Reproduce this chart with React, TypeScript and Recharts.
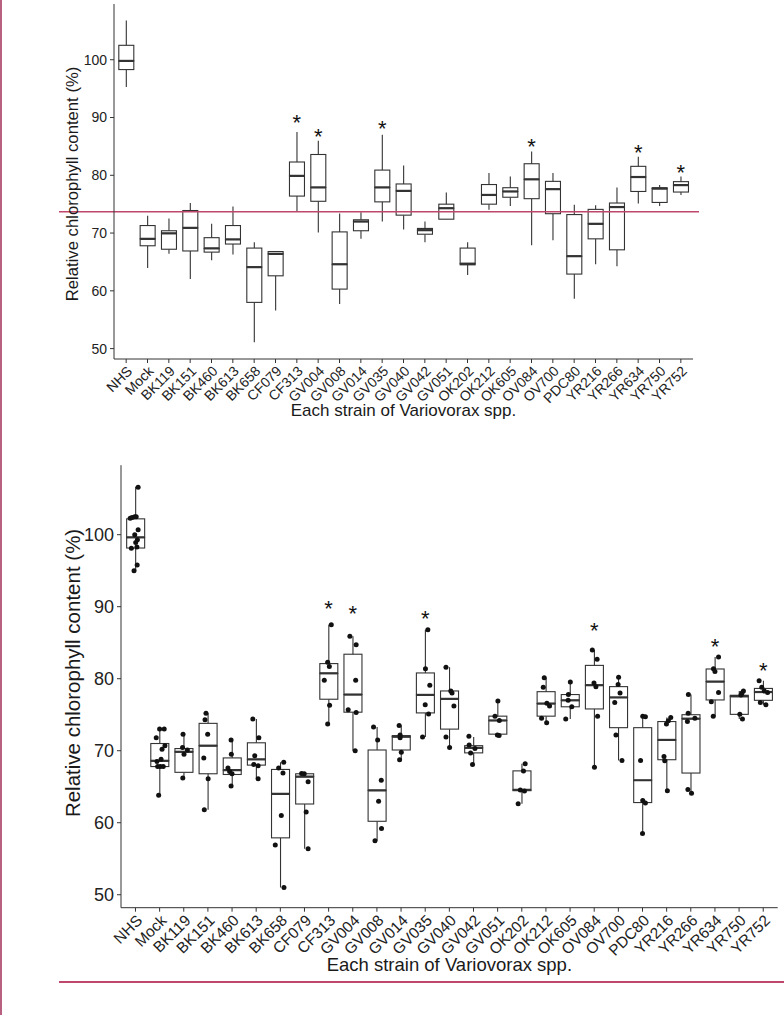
import React from 'react';
import { Bar, ComposedChart, Label, ReferenceLine, Scatter, XAxis, YAxis } from 'recharts';

const strains = [
  'NHS', 'Mock', 'BK119', 'BK151', 'BK460', 'BK613', 'BK658', 'CF079', 'CF313',
  'GV004', 'GV008', 'GV014', 'GV035', 'GV040', 'GV042', 'GV051', 'OK202', 'OK212',
  'OK605', 'OV084', 'OV700', 'PDC80', 'YR216', 'YR266', 'YR634', 'YR750', 'YR752',
];

// [lower whisker, Q1, median, Q3, upper whisker], upper figure
const upperBoxes = [
  [95.3, 98.3, 99.8, 102.5, 106.8],
  [63.95, 67.8, 69.0, 71.3, 73.0],
  [66.4, 67.2, 69.95, 70.4, 72.5],
  [62.05, 66.9, 70.9, 73.9, 75.2],
  [65.3, 66.7, 67.35, 69.2, 71.6],
  [66.3, 68.1, 68.9, 71.3, 74.6],
  [51.1, 58.0, 64.1, 67.4, 68.4],
  [56.6, 62.6, 66.4, 66.8, 66.9],
  [73.7, 76.4, 79.9, 82.3, 87.5],
  [70.1, 75.5, 77.9, 83.6, 86.0],
  [57.7, 60.3, 64.6, 70.2, 73.4],
  [69.0, 70.4, 72.0, 72.3, 73.6],
  [72.0, 75.4, 77.9, 80.9, 87.0],
  [70.6, 73.1, 77.3, 78.5, 81.7],
  [68.4, 69.8, 70.5, 70.8, 72.0],
  [72.4, 72.4, 74.3, 75.0, 77.0],
  [62.75, 64.5, 64.7, 67.4, 68.4],
  [74.05, 75.0, 76.6, 78.4, 80.4],
  [74.7, 76.2, 77.2, 77.85, 79.8],
  [67.9, 75.95, 79.3, 82.0, 84.1],
  [68.75, 73.35, 77.6, 78.95, 80.4],
  [58.65, 62.9, 66.0, 73.2, 74.9],
  [64.6, 69.0, 71.6, 74.1, 74.8],
  [64.25, 67.1, 74.5, 75.2, 77.9],
  [75.1, 77.2, 79.7, 81.55, 83.2],
  [74.7, 75.3, 77.7, 77.85, 78.3],
  [76.6, 77.1, 78.3, 78.9, 79.8],
];

// same layout, lower figure
const lowerBoxes = [
  [95.0, 98.15, 99.63, 102.2, 106.65],
  [63.8, 67.8, 68.6, 71.0, 73.0],
  [66.2, 67.0, 69.85, 70.3, 72.3],
  [61.8, 66.8, 70.7, 73.8, 75.2],
  [65.1, 66.7, 67.3, 69.0, 71.5],
  [66.1, 68.0, 68.8, 71.1, 74.4],
  [51.0, 57.9, 64.0, 67.4, 68.4],
  [56.4, 62.6, 66.4, 66.8, 66.9],
  [73.7, 77.15, 80.75, 82.1, 87.5],
  [70.0, 75.35, 77.8, 83.4, 85.9],
  [57.5, 60.2, 64.5, 70.1, 73.3],
  [68.75, 70.1, 71.95, 72.1, 73.5],
  [71.9, 75.25, 77.75, 80.8, 86.8],
  [70.45, 73.0, 77.2, 78.3, 81.6],
  [68.1, 69.7, 70.4, 70.7, 71.9],
  [72.1, 72.3, 74.2, 74.8, 76.9],
  [62.65, 64.45, 64.55, 67.2, 68.2],
  [73.9, 74.8, 76.55, 78.2, 80.15],
  [74.4, 76.1, 77.0, 77.8, 79.55],
  [67.7, 75.8, 79.1, 81.85, 84.0],
  [68.65, 73.2, 77.4, 78.9, 80.2],
  [58.5, 62.8, 65.9, 73.2, 74.8],
  [64.45, 68.75, 71.5, 74.05, 74.6],
  [64.1, 66.9, 74.45, 75.0, 77.8],
  [74.8, 77.05, 79.6, 81.35, 83.0],
  [74.4, 75.05, 77.55, 77.7, 78.3],
  [76.4, 77.0, 78.15, 78.65, 79.7],
];

const starStrains = ['CF313', 'GV004', 'GV035', 'OV084', 'YR634', 'YR752'];
const upperStarLevels = [90.0, 87.6, 89.0, 85.8, 84.8, 81.3];
const lowerStarLevels = [90.4, 89.7, 89.05, 87.4, 85.2, 81.9];

const controlLevel = 73.7;

// individual plants (lower figure), values and horizontal jitter in category widths
const dotValues = [
  [106.6, 102.3, 102.4, 102.5, 102.5, 100.7, 100.0, 99.3, 98.9, 98.1, 98.3, 95.8, 95.0],
  [71.8, 73.0, 73.0, 70.7, 70.2, 68.8, 67.8, 67.8, 67.8, 68.5, 63.8],
  [72.3, 70.45, 69.5, 70.1, 66.2],
  [75.2, 74.3, 72.3, 69.0, 66.1, 61.8],
  [71.5, 69.5, 67.6, 67.1, 66.8, 65.1],
  [74.4, 71.8, 69.3, 68.1, 67.9, 66.1],
  [67.6, 68.4, 66.9, 61.0, 56.9, 51.0],
  [66.85, 66.8, 65.7, 61.5, 56.4],
  [87.5, 82.3, 81.7, 79.8, 76.3, 73.7],
  [85.9, 84.7, 79.8, 75.7, 75.3, 70.0],
  [73.3, 71.5, 65.9, 63.0, 59.2, 57.5],
  [73.5, 72.2, 71.8, 69.8, 68.75],
  [86.8, 81.4, 79.1, 76.4, 75.1, 71.9],
  [81.6, 78.3, 78.0, 76.2, 71.9, 70.45],
  [72.0, 70.8, 70.3, 69.7, 68.1],
  [76.9, 74.8, 74.2, 72.2, 72.1],
  [68.2, 67.2, 64.55, 64.4, 62.65],
  [80.15, 78.8, 76.6, 76.2, 74.5, 73.9],
  [79.55, 77.8, 77.0, 76.1, 74.4],
  [84.0, 82.7, 79.4, 78.9, 74.8, 67.7],
  [80.2, 79.2, 78.0, 76.7, 72.2, 68.65],
  [74.8, 74.7, 68.65, 63.1, 62.75, 58.5],
  [74.6, 74.15, 73.7, 69.2, 68.6, 64.45],
  [77.8, 75.2, 74.5, 74.05, 64.6, 64.1],
  [83.0, 81.4, 81.0, 78.1, 76.8, 74.8],
  [78.3, 77.75, 78.0, 75.05, 74.4],
  [79.7, 78.8, 78.3, 78.1, 76.7, 76.4],
];
const dotOffsets = [
  [0.11, -0.22, -0.14, -0.03, 0.03, 0.11, -0.03, 0.08, 0.01, -0.17, 0.06, 0.07, -0.06],
  [-0.14, 0, 0.19, 0.22, 0.1, 0.06, -0.08, 0.03, 0.15, -0.11, -0.04],
  [-0.03, -0.05, 0.01, 0.15, -0.04],
  [-0.08, -0.12, -0.01, -0.17, 0.01, -0.15],
  [-0.04, -0.03, -0.17, -0.1, 0, -0.04],
  [-0.14, 0.11, -0.06, -0.1, 0.08, 0.08],
  [-0.07, 0.14, 0.11, 0.04, -0.21, 0.15],
  [-0.12, -0.01, 0.15, 0.07, 0.15],
  [0.11, -0.04, 0.03, -0.18, 0.04, -0.04],
  [-0.12, 0.14, 0.12, -0.19, 0.14, 0.1],
  [-0.14, 0.03, 0.18, 0.07, 0.19, -0.08],
  [-0.08, -0.04, -0.04, 0.01, -0.06],
  [0.11, 0.01, 0.19, 0, 0.14, -0.11],
  [-0.14, 0.06, 0.11, 0.19, -0.14, 0.01],
  [-0.19, -0.18, 0.06, -0.12, -0.04],
  [0.01, -0.11, 0.07, -0.01, 0.06],
  [0.14, 0.07, -0.06, 0.11, -0.15],
  [-0.07, -0.11, 0.04, 0.15, -0.18, 0.03],
  [0.01, -0.07, -0.08, 0.07, -0.18],
  [-0.08, 0.12, -0.01, 0.07, 0.14, 0.01],
  [0.01, -0.01, 0.07, -0.15, -0.1, 0.15],
  [0.01, 0.12, -0.08, 0.01, 0.12, 0],
  [0.17, 0.07, -0.01, -0.11, -0.08, 0.03],
  [-0.1, -0.11, 0.17, -0.14, -0.12, 0.03],
  [0.15, -0.06, 0, 0.15, -0.15, -0.07],
  [0.18, 0.08, 0.12, 0.03, 0.14],
  [-0.17, -0.06, 0.04, 0.18, -0.12, 0.11],
];

const yTicks = [50, 60, 70, 80, 90, 100];
const yDomain = [48.2, 109.65];

const ink = '#333333';
const textInk = '#222222';
const rose = '#c0476c';
const font = '"Liberation Sans", Arial, sans-serif';

const toRows = (boxes: number[][]) =>
  strains.map((name, i) => {
    const [lo, q1, med, q3, hi] = boxes[i];
    return { name, base: lo, w1: q1 - lo, b1: med - q1, b2: q3 - med, w2: hi - q3 };
  });

const starPoints = (levels: number[]) =>
  starStrains.map((s, i) => ({ x: strains.indexOf(s) + 0.5, y: levels[i] }));

const dotPoints = dotValues.flatMap((vals, i) =>
  vals.map((v, j) => ({ x: i + 0.5 + dotOffsets[i][j], y: v })),
);

const Empty = () => <g />;

const Whisker = (p: any) => {
  if (p.height == null || !(p.height > 0)) return <g />;
  const cx = p.x + p.width / 2;
  return <line x1={cx} x2={cx} y1={p.y} y2={p.y + p.height} stroke={ink} strokeWidth={1.1} />;
};

const LowerBox = (p: any) => (
  <rect x={p.x} y={p.y} width={p.width} height={Math.max(p.height || 0, 0)} fill="#fff" stroke={ink} strokeWidth={1.1} />
);

const UpperBox = (p: any) => {
  const h = Math.max(p.height || 0, 0);
  return (
    <g>
      <rect x={p.x} y={p.y} width={p.width} height={h} fill="#fff" stroke={ink} strokeWidth={1.1} />
      <line x1={p.x} x2={p.x + p.width} y1={p.y + h} y2={p.y + h} stroke={ink} strokeWidth={2.2} />
    </g>
  );
};

interface PanelProps {
  boxes: number[][];
  starLevels: number[];
  withDots?: boolean;
  control?: number;
  height: number;
  top: number;
  right: number;
  yAxisWidth: number;
  xAxisHeight: number;
  pad: number;
  gap: string;
  yTickSize: number;
  xTickSize: number;
  titleSize: number;
  yTitleSize: number;
  starSize: number;
  xTitleDrop: number;
  yTitleShift: number;
}

const BoxPanel: React.FC<PanelProps> = (props) => {
  const rows = toRows(props.boxes);
  const stars = starPoints(props.starLevels);

  const strainTick = (p: any) => (
    <text
      x={p.x}
      y={p.y}
      transform={`rotate(-45 ${p.x} ${p.y})`}
      textAnchor="end"
      dy="0.71em"
      fontSize={props.xTickSize}
      fill={textInk}
    >
      {p.payload.value}
    </text>
  );

  return (
    <ComposedChart
      width={784}
      height={props.height}
      data={rows}
      margin={{ top: props.top, right: props.right, bottom: 0, left: 0 }}
      barCategoryGap={props.gap}
    >
      <XAxis
        dataKey="name"
        type="category"
        interval={0}
        height={props.xAxisHeight}
        padding={{ left: props.pad, right: props.pad }}
        stroke={ink}
        tickSize={4}
        tickMargin={2}
        tick={strainTick}
      >
        <Label
          content={({ viewBox }: any) => (
            <text
              x={viewBox.x + viewBox.width / 2}
              y={viewBox.y + props.xTitleDrop}
              textAnchor="middle"
              dominantBaseline="central"
              fontSize={props.titleSize}
              fill="#1a1a1a"
            >
              Each strain of Variovorax spp.
            </text>
          )}
        />
      </XAxis>
      <XAxis
        xAxisId="num"
        dataKey="x"
        type="number"
        domain={[0, strains.length]}
        padding={{ left: props.pad, right: props.pad }}
        allowDataOverflow
        hide
      />
      <YAxis
        type="number"
        domain={yDomain}
        ticks={yTicks}
        allowDataOverflow
        width={props.yAxisWidth}
        stroke={ink}
        tickSize={4}
        tickMargin={3}
        tick={{ fontSize: props.yTickSize, fill: textInk }}
      >
        <Label
          content={({ viewBox }: any) => {
            const cx = 72.5;
            const cy = viewBox.y + viewBox.height / 2 + props.yTitleShift;
            return (
              <text
                x={cx}
                y={cy}
                transform={`rotate(-90 ${cx} ${cy})`}
                textAnchor="middle"
                dominantBaseline="central"
                fontSize={props.yTitleSize}
                fill="#1a1a1a"
              >
                Relative chlorophyll content (%)
              </text>
            );
          }}
        />
      </YAxis>
      <Bar dataKey="base" stackId="box" shape={Empty} isAnimationActive={false} />
      <Bar dataKey="w1" stackId="box" shape={Whisker} isAnimationActive={false} />
      <Bar dataKey="b1" stackId="box" shape={LowerBox} isAnimationActive={false} />
      <Bar dataKey="b2" stackId="box" shape={UpperBox} isAnimationActive={false} />
      <Bar dataKey="w2" stackId="box" shape={Whisker} isAnimationActive={false} />
      {props.withDots && (
        <Scatter
          xAxisId="num"
          data={dotPoints}
          dataKey="y"
          isAnimationActive={false}
          shape={(p: any) => <circle cx={p.cx} cy={p.cy} r={2.5} fill="#111" />}
        />
      )}
      <Scatter
        xAxisId="num"
        data={stars}
        dataKey="y"
        isAnimationActive={false}
        shape={(p: any) => (
          <text x={p.cx} y={p.cy + props.starSize * 0.57} textAnchor="middle" fontSize={props.starSize} fill="#111">
            *
          </text>
        )}
      />
      {props.control != null && (
        <ReferenceLine
          y={props.control}
          shape={(p: any) => (
            <line x1={p.x1 - 55} x2={p.x2 + 6} y1={p.y1} y2={p.y2} stroke={rose} strokeWidth={1.6} />
          )}
        />
      )}
    </ComposedChart>
  );
};

export default function App() {
  return (
    <div
      style={{
        position: 'absolute',
        left: 0,
        top: 0,
        width: 784,
        height: 1015,
        background: '#fff',
        fontFamily: font,
        overflow: 'hidden',
      }}
    >
      <div style={{ position: 'absolute', left: 0, top: 0, width: 2, height: 1015, background: '#b8607f' }} />
      <div style={{ position: 'absolute', left: 0, top: 0 }}>
        <BoxPanel
          boxes={upperBoxes}
          starLevels={upperStarLevels}
          control={controlLevel}
          height={440}
          top={4}
          right={91}
          yAxisWidth={114}
          xAxisHeight={81}
          pad={1.5}
          gap="15.5%"
          yTickSize={14}
          xTickSize={14}
          titleSize={17}
          yTitleSize={16.7}
          starSize={22}
          xTitleDrop={51}
          yTitleShift={2.5}
        />
      </div>
      <div style={{ position: 'absolute', left: 0, top: 450 }}>
        <BoxPanel
          boxes={lowerBoxes}
          starLevels={lowerStarLevels}
          withDots
          height={540}
          top={15.2}
          right={6.3}
          yAxisWidth={121}
          xAxisHeight={82.3}
          pad={2.4}
          gap="13.5%"
          yTickSize={18}
          xTickSize={15.5}
          titleSize={18.5}
          yTitleSize={20.5}
          starSize={22}
          xTitleDrop={57}
          yTitleShift={-13.5}
        />
      </div>
      <div style={{ position: 'absolute', left: 59, top: 981, width: 725, height: 2, background: rose }} />
    </div>
  );
}
